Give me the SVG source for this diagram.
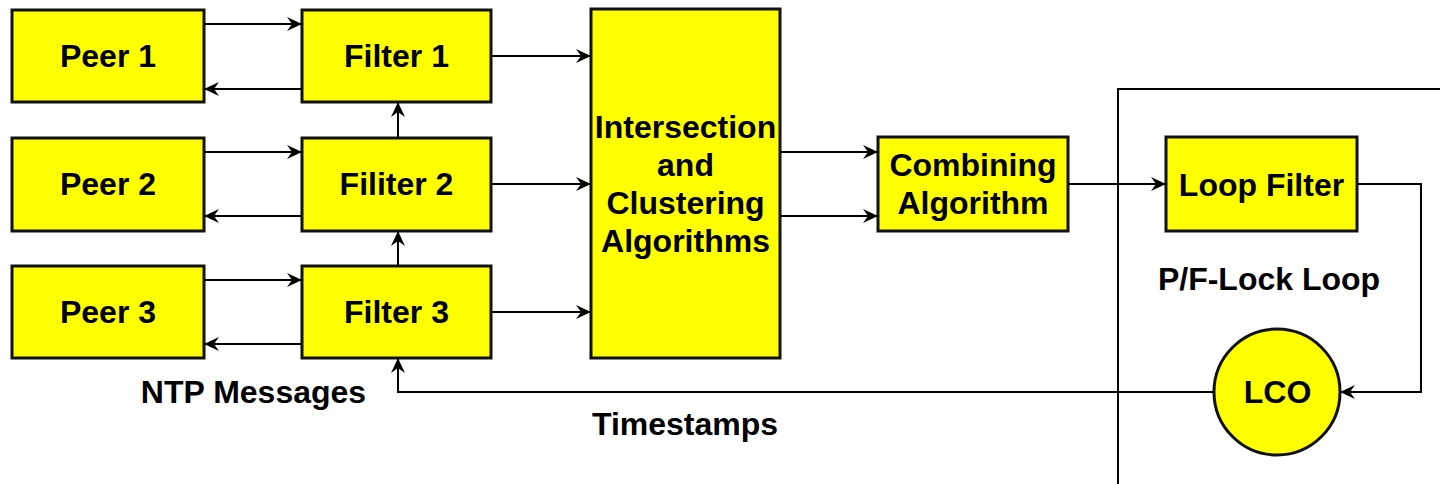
<svg xmlns="http://www.w3.org/2000/svg" width="1440" height="484" viewBox="0 0 1440 484">
  <style>
    .box { fill: #FFFF00; stroke: #111; stroke-width: 3; }
    .lbl { font-family: "Liberation Sans", Arial, sans-serif; font-weight: bold; font-size: 32px; fill: #000; text-anchor: middle; }
    .wire { fill: none; stroke: #000; stroke-width: 2; }
    .arrow { fill: none; stroke: #000; stroke-width: 2; marker-end: url(#head); }
  </style>
  <defs>
    <marker id="head" markerUnits="userSpaceOnUse" markerWidth="16" markerHeight="14" refX="15" refY="7" orient="auto">
      <path d="M0,0 L15,7 L0,14 L5,7 Z" fill="#000"/>
    </marker>
  </defs>
  <rect width="1440" height="484" fill="#fff"/>

  <!-- loop enclosure -->
  <path class="wire" d="M1118,484 V89 H1440" stroke-width="2.5"/>

  <g id="peer1"><rect class="box" x="12" y="10" width="192" height="92"/><text class="lbl" x="108" y="67">Peer 1</text></g>
  <g id="peer2"><rect class="box" x="12" y="138" width="192" height="93"/><text class="lbl" x="108" y="195">Peer 2</text></g>
  <g id="peer3"><rect class="box" x="12" y="266" width="192" height="92"/><text class="lbl" x="108" y="323">Peer 3</text></g>

  <g id="filter1"><rect class="box" x="302" y="10" width="189" height="92"/><text class="lbl" x="396.5" y="67">Filter 1</text></g>
  <g id="filter2"><rect class="box" x="302" y="138" width="189" height="93"/><text class="lbl" x="396.5" y="195">Filiter 2</text></g>
  <g id="filter3"><rect class="box" x="302" y="266" width="189" height="92"/><text class="lbl" x="396.5" y="323">Filter 3</text></g>

  <g id="intersection">
    <rect class="box" x="591" y="9" width="189" height="349"/>
    <text class="lbl" x="685.5" y="138">Intersection</text>
    <text class="lbl" x="685.5" y="176">and</text>
    <text class="lbl" x="685.5" y="214">Clustering</text>
    <text class="lbl" x="685.5" y="252">Algorithms</text>
  </g>

  <g id="combining">
    <rect class="box" x="878" y="137" width="190" height="94"/>
    <text class="lbl" x="973" y="176">Combining</text>
    <text class="lbl" x="973" y="214">Algorithm</text>
  </g>

  <g id="loopfilter"><rect class="box" x="1166" y="137" width="191" height="94"/><text class="lbl" x="1261.5" y="196">Loop Filter</text></g>

  <g id="lco"><circle class="box" cx="1277" cy="392" r="63"/><text class="lbl" x="1277.5" y="403">LCO</text></g>

  <g id="connectors">
    <!-- peers to filters and back -->
    <line class="arrow" x1="204" y1="24" x2="302" y2="24"/>
    <line class="arrow" x1="302" y1="89" x2="204" y2="89"/>
    <line class="arrow" x1="204" y1="152" x2="302" y2="152"/>
    <line class="arrow" x1="302" y1="216" x2="204" y2="216"/>
    <line class="arrow" x1="204" y1="280" x2="302" y2="280"/>
    <line class="arrow" x1="302" y1="344" x2="204" y2="344"/>
    <!-- filter chain -->
    <line class="arrow" x1="398" y1="138" x2="398" y2="102"/>
    <line class="arrow" x1="398" y1="266" x2="398" y2="231"/>
    <!-- filters to intersection -->
    <line class="arrow" x1="491" y1="56" x2="591" y2="56"/>
    <line class="arrow" x1="491" y1="184" x2="591" y2="184"/>
    <line class="arrow" x1="491" y1="312" x2="591" y2="312"/>
    <!-- intersection to combining -->
    <line class="arrow" x1="780" y1="152" x2="878" y2="152"/>
    <line class="arrow" x1="780" y1="216" x2="878" y2="216"/>
    <!-- combining to loop filter -->
    <line class="arrow" x1="1068" y1="184" x2="1166" y2="184"/>
    <!-- loop filter to LCO -->
    <path class="arrow" d="M1357,184 H1421 V392 H1340"/>
    <!-- LCO timestamps back to filter 3 -->
    <path class="arrow" d="M1214,392 H398 V358"/>
  </g>

  <text class="lbl" x="253.5" y="403">NTP Messages</text>
  <text class="lbl" x="685" y="435">Timestamps</text>
  <text class="lbl" x="1269" y="290">P/F-Lock Loop</text>
</svg>
